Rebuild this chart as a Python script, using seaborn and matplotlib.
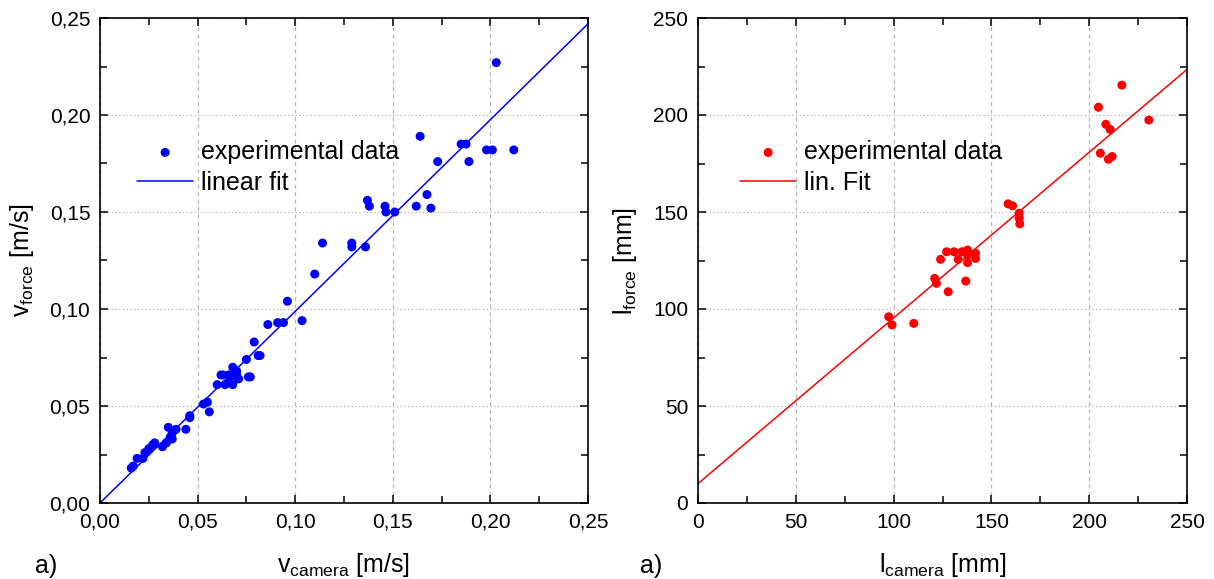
import numpy as np
import pandas as pd
import matplotlib
matplotlib.use("Agg")
import matplotlib.pyplot as plt
import seaborn as sns
from matplotlib.ticker import MultipleLocator, FuncFormatter

# Velocidad: cámara vs. sensor de fuerza [m/s]
v_camera = [0.016, 0.017, 0.019, 0.022, 0.023, 0.025, 0.027, 0.028, 0.032, 0.034,
            0.035, 0.036, 0.037, 0.037, 0.039, 0.044, 0.046, 0.046, 0.053, 0.055,
            0.056, 0.060, 0.062, 0.063, 0.064, 0.066, 0.066, 0.067, 0.068, 0.068,
            0.070, 0.070, 0.071, 0.075, 0.076, 0.077, 0.079, 0.081, 0.082, 0.086,
            0.091, 0.094, 0.096, 0.1035, 0.110, 0.114, 0.129, 0.129, 0.136, 0.137,
            0.138, 0.146, 0.1465, 0.151, 0.162, 0.164, 0.1675, 0.1695, 0.173, 0.185,
            0.1875, 0.189, 0.198, 0.201, 0.203, 0.212]
v_force = [0.018, 0.019, 0.023, 0.023, 0.026, 0.028, 0.030, 0.031, 0.029, 0.031,
           0.039, 0.034, 0.033, 0.036, 0.038, 0.038, 0.045, 0.044, 0.051, 0.052,
           0.047, 0.061, 0.066, 0.066, 0.061, 0.066, 0.062, 0.065, 0.061, 0.070,
           0.068, 0.066, 0.064, 0.074, 0.065, 0.065, 0.083, 0.076, 0.076, 0.092,
           0.093, 0.093, 0.104, 0.094, 0.118, 0.134, 0.132, 0.134, 0.132, 0.156,
           0.153, 0.153, 0.150, 0.150, 0.153, 0.189, 0.159, 0.152, 0.176, 0.185,
           0.185, 0.176, 0.182, 0.182, 0.227, 0.182]
v_fit_slope = 0.988
v_fit_intercept = 0.0

# Longitud: cámara vs. sensor de fuerza [mm]
l_camera = [97.5, 99.2, 110.3, 121.0, 121.9, 127.9, 136.9, 124.0, 127.1, 130.9,
            133.0, 135.0, 137.8, 137.8, 137.8, 141.9, 141.9, 158.5, 160.8, 164.2,
            164.2, 164.5, 204.7, 205.7, 208.5, 209.8, 210.7, 211.7, 216.7, 230.5]
l_force = [96.0, 91.8, 92.6, 115.8, 113.2, 108.9, 114.4, 125.6, 129.5, 129.5,
           125.6, 129.5, 130.4, 127.8, 123.9, 128.7, 126.1, 154.2, 153.2, 149.4,
           146.8, 143.9, 204.0, 180.3, 195.2, 177.2, 192.6, 178.6, 215.4, 197.4]
l_fit_slope = 0.854
l_fit_intercept = 10.0

sns.set_style("ticks")
plt.rcParams['font.family'] = ['Liberation Sans', 'DejaVu Sans']
plt.rcParams['mathtext.fontset'] = 'custom'
plt.rcParams['mathtext.rm'] = 'Liberation Sans'
plt.rcParams['mathtext.it'] = 'Liberation Sans'
plt.rcParams['text.color'] = 'black'
plt.rcParams['axes.labelcolor'] = 'black'
plt.rcParams['xtick.color'] = 'black'
plt.rcParams['ytick.color'] = 'black'

fig = plt.figure(figsize=(12.14, 5.79), dpi=100)
ax1 = fig.add_axes([100 / 1214, 76 / 579, 488 / 1214, 485 / 579])
ax2 = fig.add_axes([698 / 1214, 76 / 579, 489 / 1214, 485 / 579])


def style_axis(ax, lim, major, minor, fmt):
    ax.set_xlim(0, lim)
    ax.set_ylim(0, lim)
    ax.xaxis.set_major_locator(MultipleLocator(major))
    ax.yaxis.set_major_locator(MultipleLocator(major))
    ax.xaxis.set_minor_locator(MultipleLocator(minor))
    ax.yaxis.set_minor_locator(MultipleLocator(minor))
    ax.xaxis.set_major_formatter(FuncFormatter(fmt))
    ax.yaxis.set_major_formatter(FuncFormatter(fmt))
    ax.tick_params(which='both', direction='in', top=True, right=True,
                   width=1.1, color='black')
    ax.tick_params(which='major', length=6, labelsize=15, pad=7)
    ax.tick_params(which='minor', length=5)
    ax.xaxis.grid(True, which='major', color='#b4b4b4', linestyle=(0, (3, 3)), linewidth=0.9)
    ax.yaxis.grid(True, which='major', color='#b4b4b4', linestyle=(0, (1, 2)), linewidth=0.9)
    for s in ax.spines.values():
        s.set_linewidth(1.2)
        s.set_color('black')
        s.set_visible(True)


def draw_panel(ax, x, y, slope, intercept, lim, color, fit_label):
    df = pd.DataFrame({'x': x, 'y': y})
    sns.scatterplot(data=df, x='x', y='y', ax=ax, color=color, s=42,
                    edgecolor='none', label='experimental data', zorder=3)
    fit = pd.DataFrame({'x': [0, lim]})
    fit['y'] = intercept + slope * fit['x']
    sns.lineplot(data=fit, x='x', y='y', ax=ax, color=color, linewidth=1.1,
                 label=fit_label, zorder=2)


draw_panel(ax1, v_camera, v_force, v_fit_slope, v_fit_intercept, 0.25, '#0000ff', 'linear fit')
draw_panel(ax2, l_camera, l_force, l_fit_slope, l_fit_intercept, 250, '#ff0000', 'lin. Fit')

style_axis(ax1, 0.25, 0.05, 0.025, lambda v, p: f"{v:.2f}".replace('.', ','))
style_axis(ax2, 250, 50, 25, lambda v, p: f"{v:.0f}")

ax1.set_xlabel(r"v$_{\mathrm{camera}}$ [m/s]", fontsize=18, labelpad=14)
ax1.set_ylabel(r"v$_{\mathrm{force}}$ [m/s]", fontsize=18, labelpad=10)
ax2.set_xlabel(r"l$_{\mathrm{camera}}$ [mm]", fontsize=18, labelpad=14)
ax2.set_ylabel(r"l$_{\mathrm{force}}$ [mm]", fontsize=18, labelpad=10)

for ax, x0 in [(ax1, 137), (ax2, 740)]:
    ax.legend(loc='upper left', bbox_to_anchor=(x0 / 1214, 1 - 140 / 579),
              bbox_transform=fig.transFigure, frameon=False, fontsize=18,
              handlelength=2.25, handletextpad=0.3, labelspacing=0.28,
              borderpad=0, borderaxespad=0, markerscale=1.0)

fig.text(46 / 1214, 1 - 566 / 579, "a)", fontsize=18, ha='center', va='center')
fig.text(651 / 1214, 1 - 566 / 579, "a)", fontsize=18, ha='center', va='center')

fig.savefig("out.png", dpi=100)
